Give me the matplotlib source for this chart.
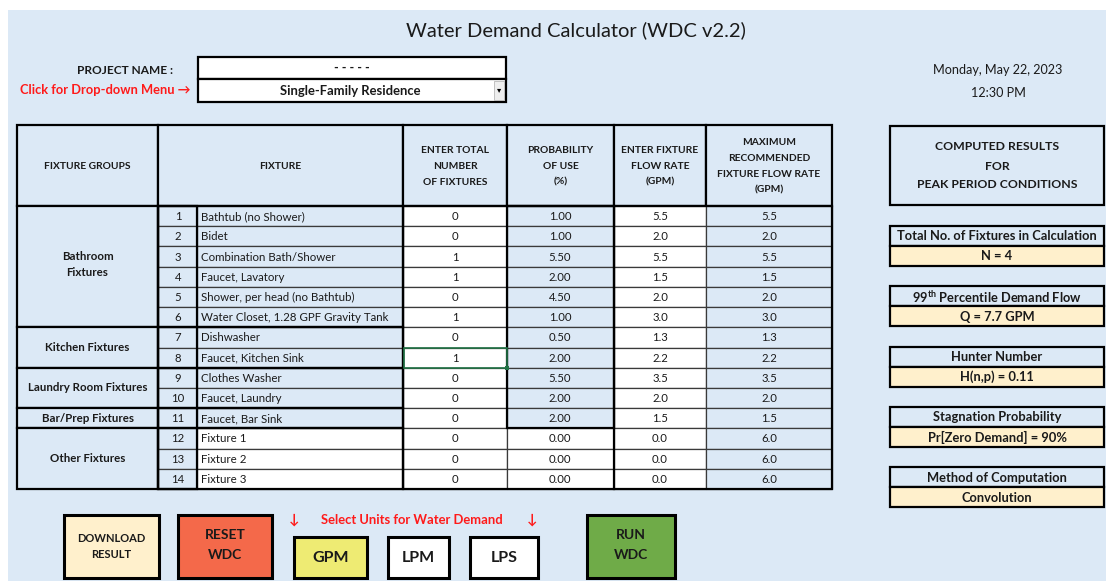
import matplotlib.pyplot as plt
from matplotlib.patches import Rectangle

plt.rcParams['font.family'] = ['Lato', 'DejaVu Sans']

# --- data ---
groups = ['Bathroom\nFixtures', 'Kitchen Fixtures', 'Laundry Room Fixtures', 'Bar/Prep Fixtures', 'Other Fixtures']
group_sizes = [6, 2, 2, 1, 3]
fixtures = ['Bathtub (no Shower)', 'Bidet', 'Combination Bath/Shower', 'Faucet, Lavatory',
            'Shower, per head (no Bathtub)', 'Water Closet, 1.28 GPF Gravity Tank', 'Dishwasher',
            'Faucet, Kitchen Sink', 'Clothes Washer', 'Faucet, Laundry', 'Faucet, Bar Sink',
            'Fixture 1', 'Fixture 2', 'Fixture 3']
n_fixtures = [0, 0, 1, 1, 0, 1, 0, 1, 0, 0, 0, 0, 0, 0]
prob_use = [1.00, 1.00, 5.50, 2.00, 4.50, 1.00, 0.50, 2.00, 5.50, 2.00, 2.00, 0.00, 0.00, 0.00]
flow_rate = [5.5, 2.0, 5.5, 1.5, 2.0, 3.0, 1.3, 2.2, 3.5, 2.0, 1.5, 0.0, 0.0, 0.0]
max_flow = [5.5, 2.0, 5.5, 1.5, 2.0, 3.0, 1.3, 2.2, 3.5, 2.0, 1.5, 6.0, 6.0, 6.0]
headers = ['FIXTURE GROUPS', 'FIXTURE', 'ENTER TOTAL\nNUMBER\nOF FIXTURES', 'PROBABILITY\nOF USE\n(%)',
           'ENTER FIXTURE\nFLOW RATE\n(GPM)', 'MAXIMUM\nRECOMMENDED\nFIXTURE FLOW RATE\n(GPM)']
result_titles = ['Total No. of Fixtures in Calculation', '99$^{\\mathregular{th}}$ Percentile Demand Flow',
                 'Hunter Number', 'Stagnation Probability', 'Method of Computation']
result_values = ['N = 4', 'Q = 7.7 GPM', 'H(n,p) = 0.11', 'Pr[Zero Demand] = 90%', 'Convolution']

BG = '#dce9f6'
CREAM = '#fff0cc'
RED = '#ff1a1a'

fig = plt.figure(figsize=(11.06, 5.81), dpi=100)
ax = fig.add_axes([0, 0, 1, 1])
ax.set_xlim(0, 1106)
ax.set_ylim(581, 0)
ax.axis('off')


def box(x0, y0, x1, y1, fc='none', lw=0.8, ec='black', z=1):
    ax.add_patch(Rectangle((x0, y0), x1 - x0, y1 - y0, fc=fc, ec=ec, lw=lw, zorder=z))


def txt(x, y, s, size=8, bold=False, ha='center', color='#1a1a1a', **kw):
    ax.text(x, y, s, fontsize=size, fontweight='bold' if bold else 'normal', ha=ha, va='center',
            color=color, zorder=5, **kw)


# page background
box(8, 10, 1106, 581, fc=BG, lw=0, ec='none', z=0)

# title and project block
txt(576, 30, 'Water Demand Calculator (WDC v2.2)', size=14.5)
txt(173, 70, 'PROJECT NAME :', size=8.6, bold=True, ha='right')
txt(191, 90, 'Click for Drop-down Menu \u2192', size=9.3, bold=True, ha='right', color=RED)
box(198, 57, 506, 79, fc='white', lw=1.6)
box(198, 79, 506, 102, fc='white', lw=1.6)
txt(352, 68, '- - - - -', size=9, bold=True)
txt(350, 91, 'Single-Family Residence', size=9.4, bold=True)
box(494, 81, 504, 100, fc='#eeeeee', lw=0.4, ec='#999999')
txt(499, 90, '\u25be', size=6, color='black')
txt(998, 70, 'Monday, May 22, 2023', size=9.1)
txt(998, 93, '12:30 PM', size=9.1)

# table geometry
cols = [17, 158, 197, 403, 507, 614, 706, 832]
top, head_bot = 125, 206
row_h = (489 - head_bot) / len(fixtures)
rows_y = [head_bot + i * row_h for i in range(len(fixtures) + 1)]

# header cells
head_spans = [(0, 1), (1, 3), (3, 4), (4, 5), (5, 6), (6, 7)]
for (a, b), h in zip(head_spans, headers):
    box(cols[a], top, cols[b], head_bot, fc=BG, lw=1.6)
    txt((cols[a] + cols[b]) / 2, (top + head_bot) / 2 + 1, h, size=7.4, bold=True, linespacing=1.95)

# data rows
for i in range(len(fixtures)):
    y0, y1 = rows_y[i], rows_y[i + 1]
    yc = (y0 + y1) / 2 + 0.5
    user_row = i >= 11
    fills = [BG, 'white' if user_row else BG, 'white', 'white' if user_row else BG, 'white', BG]
    for j, fc in enumerate(fills):
        box(cols[j + 1], y0, cols[j + 2], y1, fc=fc, lw=0.9, ec='#3a3a3a')
    txt(178, yc, str(i + 1), size=8.2)
    txt(201, yc, fixtures[i], size=8.3, ha='left')
    txt(455, yc, str(n_fixtures[i]), size=8.2)
    txt(560, yc, f'{prob_use[i]:.2f}', size=8.2)
    txt(660, yc, f'{flow_rate[i]:.1f}', size=8.2)
    txt(769, yc, f'{max_flow[i]:.1f}', size=8.2)

# group cells with heavy borders
start = 0
for g, n in zip(groups, group_sizes):
    y0, y1 = rows_y[start], rows_y[start + n]
    box(cols[0], y0, cols[1], y1, fc=BG, lw=1.6)
    box(cols[1], y0, cols[3], y1, lw=1.6)
    txt((cols[0] + cols[1]) / 2, (y0 + y1) / 2 - (2 if n == 6 else 0), g, size=8.3, bold=True,
        linespacing=1.6)
    start += n

# heavy verticals and outline
box(cols[1], head_bot, cols[2], rows_y[-1], lw=1.6)
box(cols[3], head_bot, cols[7], rows_y[-1], lw=1.6)
box(cols[4], head_bot, cols[5], rows_y[11], lw=1.6)
ax.plot([cols[5], cols[5]], [head_bot, rows_y[-1]], color='black', lw=1.6, zorder=3)

# active cell highlight
box(cols[3] + 1, rows_y[7], cols[4], rows_y[8], lw=1.2, ec='#217346', z=4)
box(cols[4] - 2, rows_y[8] - 2, cols[4] + 2, rows_y[8] + 2, fc='#217346', lw=0, ec='none', z=4)

# results panel
rx0, rx1 = 890, 1104
box(rx0, 126, rx1, 205, fc=BG, lw=1.6)
txt((rx0 + rx1) / 2, 147, 'COMPUTED RESULTS', size=8.8, bold=True)
txt((rx0 + rx1) / 2, 166, 'FOR', size=8.8, bold=True)
txt((rx0 + rx1) / 2, 185, 'PEAK PERIOD CONDITIONS', size=8.8, bold=True)
for k, (t, v) in enumerate(zip(result_titles, result_values)):
    y0 = 226 + k * 60.3
    box(rx0, y0, rx1, y0 + 20, fc=BG, lw=1.6)
    box(rx0, y0 + 20, rx1, y0 + 40, fc=CREAM, lw=1.6)
    txt((rx0 + rx1) / 2, y0 + 10.5, t, size=9.3, bold=True)
    txt((rx0 + rx1) / 2, y0 + 30.5, v, size=9.3, bold=True)

# buttons
box(64, 515, 159, 578, fc=CREAM, lw=2.2)
txt(111, 538, 'DOWNLOAD', size=8, bold=True)
txt(111, 554, 'RESULT', size=8, bold=True)
box(178, 515, 272, 578, fc='#f4694a', lw=2.2)
txt(225, 535, 'RESET', size=10, bold=True)
txt(225, 555, 'WDC', size=10, bold=True)
txt(294, 520, '\u2193', size=10, bold=True, color=RED)
txt(412, 520, 'Select Units for Water Demand', size=9.4, bold=True, color=RED)
txt(532, 520, '\u2193', size=10, bold=True, color=RED)
box(294, 537, 367, 578, fc='#eeeb73', lw=2.2)
txt(331, 558, 'GPM', size=11.5, bold=True)
box(388, 537, 449, 578, fc='white', lw=2.2)
txt(418, 558, 'LPM', size=11.5, bold=True)
box(470, 537, 538, 578, fc='white', lw=2.2)
txt(504, 558, 'LPS', size=11.5, bold=True)
box(587, 515, 675, 578, fc='#6fab48', lw=2.2)
txt(631, 535, 'RUN', size=10, bold=True)
txt(631, 555, 'WDC', size=10, bold=True)

fig.savefig('out.png', dpi=100)
